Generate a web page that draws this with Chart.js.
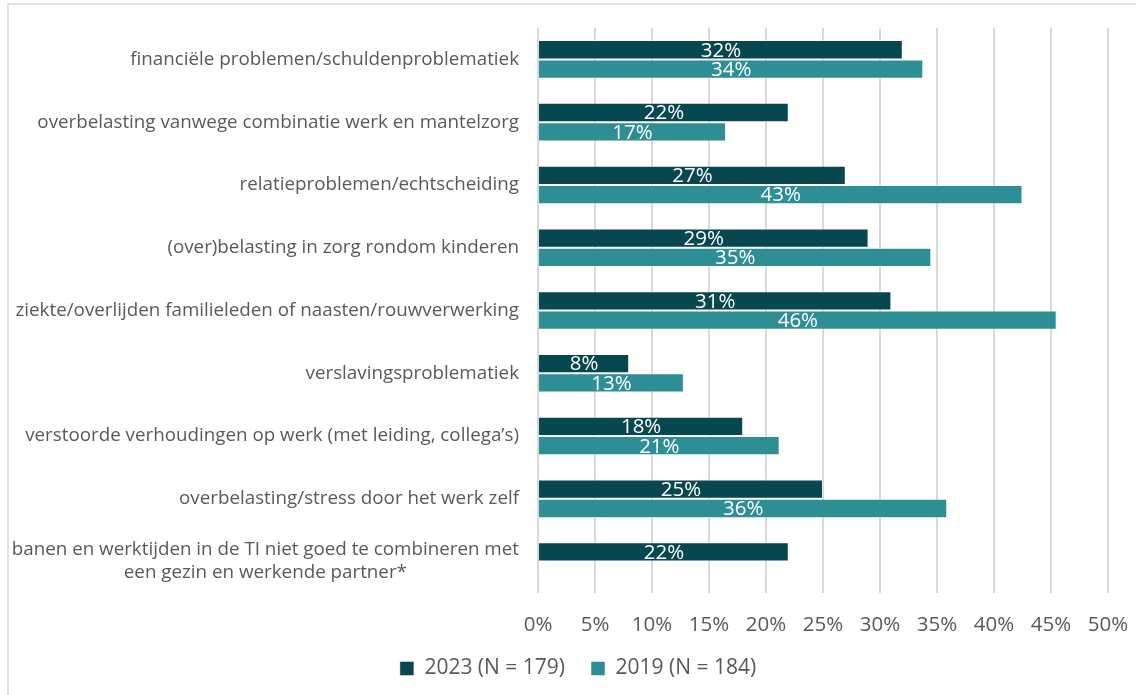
<!DOCTYPE html>
<html lang="nl">
<head>
    <meta charset="UTF-8">
    <title>Redenen</title>
    <style>
        html, body {
            margin: 0;
            padding: 0;
            background: #fff;
        }
        #wrap {
            position: relative;
            width: 1136px;
            height: 695px;
        }
    </style>
    <script src="https://cdn.jsdelivr.net/npm/chart.js"></script>
</head>
<body>

<div id="wrap">
    <canvas id="redenChart" width="1136" height="695"></canvas>
</div>

<script>
    // categorieen (laatste label over twee regels)
    var categories = [
        "financiële problemen/schuldenproblematiek",
        "overbelasting vanwege combinatie werk en mantelzorg",
        "relatieproblemen/echtscheiding",
        "(over)belasting in zorg rondom kinderen",
        "ziekte/overlijden familieleden of naasten/rouwverwerking",
        "verslavingsproblematiek",
        "verstoorde verhoudingen op werk (met leiding, collega’s)",
        "overbelasting/stress door het werk zelf",
        ["banen en werktijden in de TI niet goed te combineren met", "een gezin en werkende partner*"]
    ];

    var seriesNames = ["2023 (N = 179)", "2019 (N = 184)"];

    // percentages
    var values2023 = [32, 22, 27, 29, 31, 8, 18, 25, 22];
    var values2019 = [33.8, 16.5, 42.5, 34.5, 45.5, 12.8, 21.2, 35.9, null];

    var xTicks = [0, 5, 10, 15, 20, 25, 30, 35, 40, 45, 50];

    var labelFont = "'Open Sans', Lato, sans-serif";
    var greyText = "#595959";

    // rand rond de grafiek
    var framePlugin = {
        id: 'frame',
        beforeDraw: function(chart) {
            var ctx = chart.ctx;
            ctx.save();
            ctx.strokeStyle = '#d9d9d9';
            ctx.lineWidth = 1.5;
            ctx.strokeRect(8, 4, 1200, 800);
            ctx.restore();
        }
    };

    // legenda iets naar rechts, zoals in het origineel
    var legendShift = {
        id: 'legendShift',
        afterLayout: function(chart) {
            if (chart.legend) {
                chart.legend.left += 40;
            }
        }
    };

    // categorie labels zelf tekenen (meerregelig label gecentreerd zoals in Excel)
    var categoryLabels = {
        id: 'categoryLabels',
        afterDraw: function(chart) {
            var ctx = chart.ctx;
            var yScale = chart.scales.y;
            var right = chart.chartArea.left - 19;
            ctx.save();
            ctx.font = "18.8px " + labelFont;
            ctx.fillStyle = greyText;
            ctx.textBaseline = 'middle';
            categories.forEach(function(cat, i) {
                var y = yScale.getPixelForValue(i);
                if (Array.isArray(cat)) {
                    var maxW = 0;
                    cat.forEach(function(line) {
                        maxW = Math.max(maxW, ctx.measureText(line).width);
                    });
                    var cx = right - maxW / 2;
                    var lh = 23;
                    var startY = y - (cat.length - 1) * lh / 2;
                    ctx.textAlign = 'center';
                    cat.forEach(function(line, k) {
                        ctx.fillText(line, cx, startY + k * lh);
                    });
                } else {
                    ctx.textAlign = 'right';
                    ctx.fillText(cat, right, y);
                }
            });
            ctx.restore();
        }
    };

    // waarde labels in de balken
    var valueLabels = {
        id: 'valueLabels',
        afterDatasetsDraw: function(chart) {
            var ctx = chart.ctx;
            ctx.save();
            ctx.font = "20.5px " + labelFont;
            ctx.fillStyle = '#ffffff';
            ctx.textAlign = 'center';
            ctx.textBaseline = 'middle';
            chart.data.datasets.forEach(function(ds, d) {
                var meta = chart.getDatasetMeta(d);
                meta.data.forEach(function(bar, i) {
                    var v = ds.data[i];
                    if (v === null || v === undefined) return;
                    var cx = (bar.x + bar.base) / 2;
                    ctx.fillText(Math.round(v) + '%', cx, bar.y + 1);
                });
            });
            ctx.restore();
        }
    };

    var ctx = document.getElementById('redenChart').getContext('2d');
    var redenChart = new Chart(ctx, {
        type: 'bar',
        data: {
            labels: categories.map(function(c, i) { return i; }),
            datasets: [{
                label: seriesNames[0],
                data: values2023,
                backgroundColor: '#07474F',
                borderColor: 'rgba(255,255,255,0.45)',
                borderWidth: 1
            }, {
                label: seriesNames[1],
                data: values2019,
                backgroundColor: '#2E8E96',
                borderColor: 'rgba(255,255,255,0.45)',
                borderWidth: 1
            }]
        },
        options: {
            indexAxis: 'y',
            responsive: false,
            animation: false,
            devicePixelRatio: 1,
            datasets: {
                bar: {
                    categoryPercentage: 0.615,
                    barPercentage: 1
                }
            },
            layout: {
                padding: { left: 8, right: 28, top: 28, bottom: 6 }
            },
            scales: {
                x: {
                    min: 0,
                    max: 50,
                    afterBuildTicks: function(scale) {
                        scale.ticks = xTicks.map(function(v) { return { value: v }; });
                    },
                    afterFit: function(scale) {
                        scale.height = 39;
                        scale.paddingLeft = 0;
                        scale.paddingRight = 0;
                    },
                    ticks: {
                        callback: function(v) { return v + '%'; },
                        color: greyText,
                        font: { family: labelFont, size: 20.5 },
                        padding: 20,
                        maxRotation: 0
                    },
                    grid: {
                        color: '#d9d9d9',
                        lineWidth: 2,
                        drawTicks: false
                    },
                    border: { display: false }
                },
                y: {
                    afterFit: function(scale) { scale.width = 530; },
                    ticks: { display: false },
                    grid: { display: false },
                    border: { display: false }
                }
            },
            plugins: {
                legend: {
                    position: 'bottom',
                    labels: {
                        color: greyText,
                        font: { family: labelFont, size: 21 },
                        boxWidth: 14,
                        boxHeight: 14,
                        padding: 26
                    }
                },
                tooltip: { enabled: false }
            }
        },
        plugins: [framePlugin, legendShift, categoryLabels, valueLabels]
    });
</script>

</body>
</html>
